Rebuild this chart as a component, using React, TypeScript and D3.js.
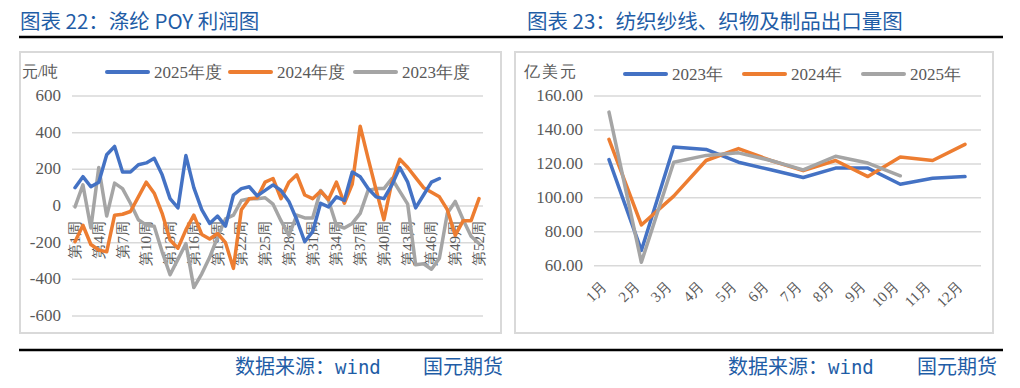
import React from 'react';
import * as d3 from 'd3';

// 涤纶 POY 利润 (元/吨), weekly
const weeks = d3.range(1, 53);
const weekTicks = [1, 4, 7, 10, 13, 16, 19, 22, 25, 28, 31, 34, 37, 40, 43, 46, 49, 52];
const poyTicks = [600, 400, 200, 0, -200, -400, -600];
const poy2025 = [100, 160, 105, 130, 280, 325, 185, 185, 225, 235, 260, 170, 40, -10, 275, 100, -20, -95, -55, -110,
  60, 95, 105, 55, 85, 115, 85, 25, -75, -195, -140, 15, -5, 50, 30, 185, 160, 95, 50, 40,
  115, 210, 130, -10, 60, 130, 150];
const poy2024 = [-195, -105, -210, -240, -250, -50, -45, -30, 50, 130, 70, -40, -185, -230, -130, -50, -155, -180, -150, -200,
  -340, -20, 40, 45, 130, 150, 40, 130, 170, 60, 40, 80, 35, 130, 15, 120, 435, 260, 90, -75,
  130, 255, 210, 155, 100, 75, 50, -20, -160, -80, -80, 40];
const poy2023 = [-5, 115, -120, 210, -55, 125, 95, 15, -75, -105, -110, -250, -375, -290, -205, -445, -370, -280, -170, -70,
  -50, 30, 40, 40, 45, 10, -80, -160, -50, -65, -65, 85, 30, -105, -120, -95, -40, 85, 95, 95,
  150, 80, 10, -320, -315, -345, -285, -40, 25, -75, -165, -205];

// 纺织纱线、织物及制品出口 (亿美元), monthly
const months = ['1月', '2月', '3月', '4月', '5月', '6月', '7月', '8月', '9月', '10月', '11月', '12月'];
const expTicks = [160, 140, 120, 100, 80, 60];
const exp2023 = [122.5, 69, 130, 128.5, 121, 116.5, 112, 117.5, 117.5, 108, 111.5, 112.5];
const exp2024 = [134.5, 84, 101, 122, 129, 122, 116, 122, 112.5, 124, 122, 131.5];
const exp2025 = [150.5, 62, 121, 125, 126.5, 122, 116.5, 124.5, 120.5, 113];

const BLUE = '#4472C4';
const ORANGE = '#ED7D31';
const GRAY = '#A5A5A5';
const TITLE = '#1F5DA6';
const AXIS = '#595959';
const SERIF = 'Liberation Serif';
const SANS = 'Noto Sans CJK SC';
const MONO = 'DejaVu Sans Mono';

const LeftChart = () => {
  const x = d3.scaleLinear().domain([1, 52]).range([75, 479]);
  const y = d3.scaleLinear().domain([-600, 600]).range([316, 96]);
  const line = d3.line<number>().x((_, i) => x(weeks[i])).y(d => y(d));
  const series = [
    { name: '2025年度', data: poy2025, color: BLUE, lx: 107 },
    { name: '2024年度', data: poy2024, color: ORANGE, lx: 230 },
    { name: '2023年度', data: poy2023, color: GRAY, lx: 355 },
  ];
  return (
    <g>
      <rect x={20} y={52} width={481} height={281} fill="none" stroke="#d9d9d9" strokeWidth={2} />
      {poyTicks.map(t => (
        <g key={t}>
          <line x1={72} x2={483} y1={y(t)} y2={y(t)} stroke="#d9d9d9" strokeWidth={1.5} />
          <text x={61} y={y(t) + 5} textAnchor="end" fontSize={17} fill={AXIS} style={{ fontFamily: SERIF }}>{t}</text>
        </g>
      ))}
      <text x={22} y={77} fontSize={16} fill={AXIS} style={{ fontFamily: SERIF }}>元/吨</text>
      {series.map(s => (
        <g key={s.name}>
          <line x1={s.lx} x2={s.lx + 41} y1={72} y2={72} stroke={s.color} strokeWidth={4} strokeLinecap="round" />
          <text x={s.lx + 47} y={78} fontSize={17} fill={AXIS} style={{ fontFamily: SERIF }}>{s.name}</text>
        </g>
      ))}
      {weekTicks.map(w => (
        <text key={w} transform={`translate(${x(w) + 5},221) rotate(-90)`} textAnchor="end" fontSize={15}
          fill={AXIS} style={{ fontFamily: SERIF }}>{`第${w}周`}</text>
      ))}
      {[...series].reverse().map(s => (
        <path key={s.name} d={line(s.data) || ''} fill="none" stroke={s.color} strokeWidth={3.5}
          strokeLinejoin="round" strokeLinecap="round" />
      ))}
    </g>
  );
};

const RightChart = () => {
  const x = d3.scalePoint<string>().domain(months).range([609, 965]);
  const y = d3.scaleLinear().domain([60, 160]).range([265.7, 96]);
  const line = d3.line<number>().x((_, i) => x(months[i]) as number).y(d => y(d));
  const series = [
    { name: '2023年', data: exp2023, color: BLUE, lx: 625 },
    { name: '2024年', data: exp2024, color: ORANGE, lx: 744 },
    { name: '2025年', data: exp2025, color: GRAY, lx: 863 },
  ];
  return (
    <g>
      <rect x={515} y={52} width={478} height={281} fill="none" stroke="#d9d9d9" strokeWidth={2} />
      {expTicks.map(t => (
        <g key={t}>
          <line x1={594} x2={981} y1={y(t)} y2={y(t)} stroke="#d9d9d9" strokeWidth={1.5} />
          <text x={583} y={y(t) + 5} textAnchor="end" fontSize={17} fill={AXIS} style={{ fontFamily: SERIF }}>{t.toFixed(2)}</text>
        </g>
      ))}
      <text x={524} y={77} fontSize={16} fill={AXIS} letterSpacing={2} style={{ fontFamily: SERIF }}>亿美元</text>
      {series.map(s => (
        <g key={s.name}>
          <line x1={s.lx} x2={s.lx + 41} y1={74} y2={74} stroke={s.color} strokeWidth={4} strokeLinecap="round" />
          <text x={s.lx + 47} y={80} fontSize={17} fill={AXIS} style={{ fontFamily: SERIF }}>{s.name}</text>
        </g>
      ))}
      {months.map(m => (
        <text key={m} transform={`translate(${(x(m) as number) - 1},287) rotate(-45)`} textAnchor="end" fontSize={15}
          fill={AXIS} style={{ fontFamily: SERIF }}>{m}</text>
      ))}
      {series.map(s => (
        <path key={s.name} d={line(s.data) || ''} fill="none" stroke={s.color} strokeWidth={3.5}
          strokeLinejoin="round" strokeLinecap="round" />
      ))}
    </g>
  );
};

const Source = ({ left, right }: { left: number; right: number }) => (
  <g fill={TITLE} fontSize={20}>
    <text x={left} y={374} style={{ fontFamily: SANS }}>数据来源：<tspan fontSize={19} style={{ fontFamily: MONO }}>wind</tspan></text>
    <text x={right} y={374} textAnchor="end" style={{ fontFamily: SANS }}>国元期货</text>
  </g>
);

export default function App() {
  return (
    <div style={{ position: 'absolute', left: 0, top: 0 }}>
      <svg width={1020} height={388} style={{ display: 'block', background: '#fff' }}>
        <text x={20} y={29} fontSize={20.5} fill={TITLE} style={{ fontFamily: SANS }}>图表 22：涤纶 POY 利润图</text>
        <text x={527} y={29} fontSize={20.5} fill={TITLE} style={{ fontFamily: SANS }}>图表 23：纺织纱线、织物及制品出口量图</text>
        <line x1={19} x2={1003} y1={37} y2={37} stroke="#000" strokeWidth={2.5} />
        <LeftChart />
        <RightChart />
        <line x1={19} x2={1003} y1={350} y2={350} stroke="#000" strokeWidth={2.5} />
        <Source left={235} right={503} />
        <Source left={728} right={997} />
      </svg>
    </div>
  );
}
